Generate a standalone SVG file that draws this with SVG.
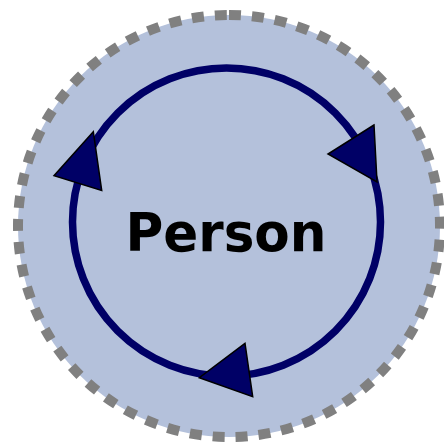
<svg xmlns="http://www.w3.org/2000/svg" width="444" height="444" viewBox="0 0 444 444">
<style>
.outer{fill:#b4c1db;stroke:#808080;stroke-width:10;stroke-dasharray:12 11}
.ring{fill:none;stroke:#000066;stroke-width:7.5}
.head{fill:#000066;stroke:#000000;stroke-width:1.5;stroke-linejoin:miter}
.label{font-family:"DejaVu Sans",Verdana,sans-serif;font-weight:bold;font-size:54px;fill:#000000;text-anchor:middle}
</style>
<g id="person">
<path class="outer" d="M229,15 A211,211 0 1 1 229,437 A211,211 0 1 1 229,15 Z"/>
<text class="label" x="226" y="251" textLength="201" lengthAdjust="spacingAndGlyphs">Person</text>
</g>
<g id="connectors">
<circle class="ring" cx="226.5" cy="222" r="154"/>
<polygon class="head" points="93.3,131.7 54,175.7 101.7,190.5"/>
<polygon class="head" points="374,125 328,154 377,182"/>
<polygon class="head" points="245,343.3 199.3,377.7 252.7,396.7"/>
</g>
</svg>
